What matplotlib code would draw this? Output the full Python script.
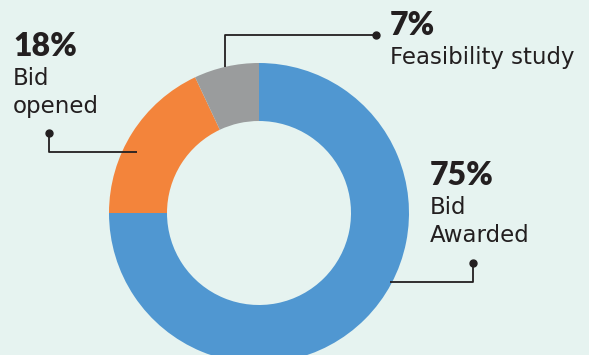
#donut chart of project stages
import matplotlib.pyplot as plt

#data
stages = ["Bid\nAwarded", "Bid\nopened", "Feasibility study"]
shares = [75, 18, 7]
colours = ["#5097d1", "#f3843b", "#9a9c9d"]

bg = "#e6f3f0"
ink = "#231f20"
H = 355

fig = plt.figure(figsize=(5.89, 3.55), dpi=100, facecolor=bg)
ax = fig.add_axes([0, 0, 1, 1])
ax.set_facecolor(bg)

#donut, clockwise from 12 o'clock
ax.pie(shares, colors=colours, startangle=90, counterclock=False,
       center=(259, H - 213), radius=150,
       wedgeprops=dict(width=58, linewidth=0))

#pie resets the limits, so set them afterwards
ax.set_xlim(0, 589)
ax.set_ylim(0, H)
ax.set_aspect("equal")
ax.axis("off")

def leader(pts):
  xs = [p[0] for p in pts]
  ys = [H - p[1] for p in pts]
  ax.plot(xs, ys, color=ink, lw=1.3, solid_capstyle="butt")
  ax.plot(xs[-1], ys[-1], "o", color=ink, ms=5)

def label(x, y, pct, name):
  ax.text(x, H - y, "{}%".format(pct), fontsize=23, fontweight="heavy",
          family="Lato", color=ink, va="baseline")
  #one text per line so baselines sit where the reference has them
  for i, line in enumerate(name.split("\n")):
    ax.text(x, H - y - 29 - 28.5 * i, line, fontsize=16.5,
            family="DejaVu Sans", color=ink, va="baseline")

#leader lines
leader([(390, 282), (473, 282), (473, 263)])
leader([(137, 152), (49, 152), (49, 133)])
leader([(225, 67), (225, 35), (376, 35)])

#labels
label(430, 185, shares[0], stages[0])
label(13, 56, shares[1], stages[1])
label(390, 35, shares[2], stages[2])

plt.savefig("out.png", dpi=100, facecolor=bg)
